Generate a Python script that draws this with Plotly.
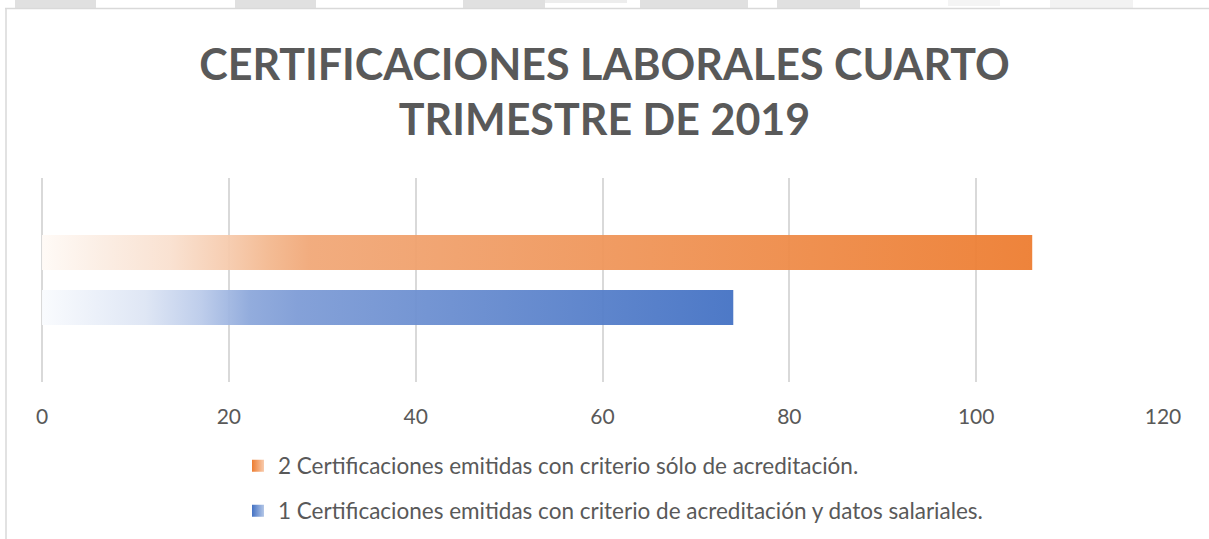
import plotly.graph_objects as go

# ---------------- data ----------------
title_lines = ["CERTIFICACIONES LABORALES CUARTO", "TRIMESTRE DE 2019"]
series_names = [
    "1 Certificaciones emitidas con criterio de acreditación y datos salariales.",
    "2 Certificaciones emitidas con criterio sólo de acreditación.",
]
series_values = [74, 106]
x_ticks = [0, 20, 40, 60, 80, 100, 120]

# ---------------- styles ----------------
blue_scale = [[0, "#F9FBFE"], [0.15, "#DDE5F4"], [0.23, "#BBCBEA"], [0.30, "#8DA8DB"],
              [0.37, "#7E9CD6"], [1, "#4472C4"]]
orange_scale = [[0, "#FFFAF6"], [0.06, "#FBEDE3"], [0.13, "#F9E0CF"], [0.19, "#F6CAAC"],
                [0.23, "#F3B88F"], [0.27, "#F1A878"], [1, "#ED7D31"]]
series_scales = [blue_scale, orange_scale]
series_dark = ["#4472C4", "#ED7D31"]
series_light = ["#B4C7E7", "#F8CBAD"]
legend_refs = ["legend2", "legend"]

W, H = 1209, 539
ML, MR, MT, MB = 42, 46, 178, 157
PW, PH = W - ML - MR, H - MT - MB
TEXT = "#595959"
GRID = "#D9D9D9"

slot = 55 / PH          # vertical slot per series (fraction of plot height)
bar_frac = 35 / 55      # bar thickness within slot

fig = go.Figure()
for i, (name, v) in enumerate(zip(series_names, series_values)):
    yc = 0.5 + (i - 0.5) * slot
    h = slot * bar_frac / 2
    fig.add_trace(go.Scatter(
        x=[0, v, v, 0, 0], y=[yc - h, yc - h, yc + h, yc + h, yc - h],
        fill="toself", mode="none",
        fillgradient=dict(type="horizontal", colorscale=series_scales[i]),
        opacity=0.95, showlegend=False, hoverinfo="skip",
    ))
    fig.add_trace(go.Scatter(
        x=[None], y=[None], mode="markers", name=name,
        marker=dict(symbol="square", size=12, color=series_dark[i],
                    gradient=dict(type="horizontal", color=series_light[i])),
        legend=legend_refs[i],
    ))


def px_x(px):
    return (px - ML) / PW


def px_y(py):
    return (H - MB - py) / PH


shapes = []
# light grey page decorations at the top
for x0, x1, c, y1 in [(15, 96, "#E0E0E0", 8), (235, 316, "#E0E0E0", 8), (463, 545, "#E0E0E0", 8),
                      (545, 627, "#EDEDED", 3), (640, 748, "#E0E0E0", 8), (777, 860, "#E0E0E0", 8),
                      (948, 1000, "#F4F4F4", 6), (1050, 1133, "#F2F2F2", 8)]:
    shapes.append(dict(type="rect", xref="paper", yref="paper",
                       x0=px_x(x0), x1=px_x(x1), y0=px_y(y1), y1=px_y(0),
                       fillcolor=c, line=dict(width=0), layer="below"))
# chart border (top & left)
shapes.append(dict(type="line", xref="paper", yref="paper", x0=px_x(5), x1=px_x(1209),
                   y0=px_y(8.5), y1=px_y(8.5), line=dict(color=GRID, width=1.5)))
shapes.append(dict(type="line", xref="paper", yref="paper", x0=px_x(6), x1=px_x(6),
                   y0=px_y(8.5), y1=px_y(539), line=dict(color=GRID, width=1.5)))

legend_common = dict(xref="container", yref="container", xanchor="left", yanchor="middle",
                     font=dict(family="Lato", size=22.5, color=TEXT),
                     bgcolor="rgba(0,0,0,0)", borderwidth=0)

fig.update_layout(
    width=W, height=H,
    margin=dict(l=ML, r=MR, t=MT, b=MB, autoexpand=False),
    paper_bgcolor="white", plot_bgcolor="white",
    title=dict(text="<br>".join(title_lines), x=0.5, xref="container", xanchor="center",
               y=1 - 79.5 / H, yref="container", yanchor="middle",
               font=dict(family="Lato", size=43, color=TEXT, weight="bold")),
    xaxis=dict(range=[0, 120], tickvals=x_ticks, showgrid=True, gridcolor=GRID, gridwidth=1.5,
               zeroline=True, zerolinecolor=GRID, zerolinewidth=1.5, showline=False,
               ticks="", ticklabelstandoff=20, tickangle=0,
               tickfont=dict(family="Lato", size=21, color=TEXT), fixedrange=True),
    yaxis=dict(range=[0, 1], showgrid=False, zeroline=False, showticklabels=False,
               showline=False, fixedrange=True),
    legend=dict(x=238 / W, y=1 - 466 / H, **legend_common),
    legend2=dict(x=238 / W, y=1 - 511 / H, **legend_common),
    shapes=shapes,
    showlegend=True,
)

fig.write_html("out.html", config={"displayModeBar": False},
               post_script="document.body.style.margin='0';")
